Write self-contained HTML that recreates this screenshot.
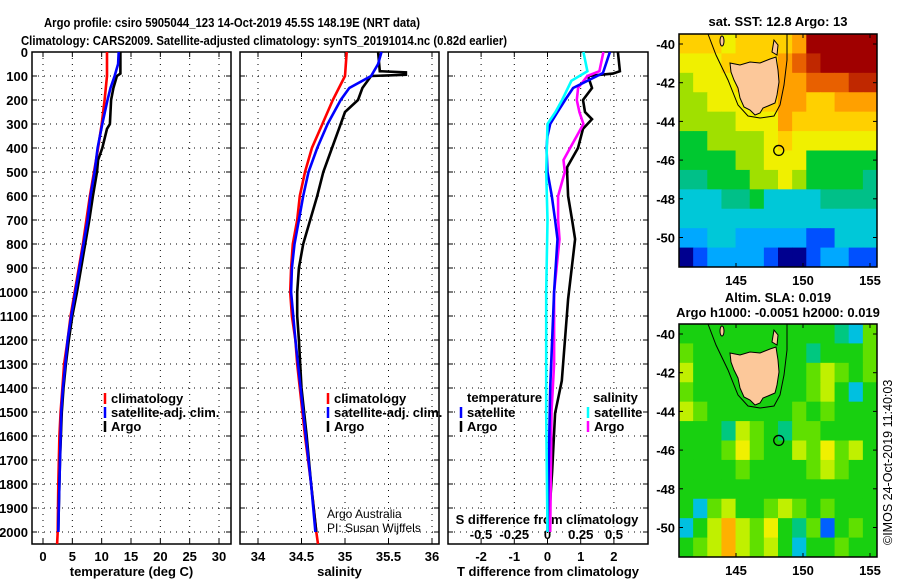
<!DOCTYPE html>
<html><head><meta charset="utf-8"><style>
html,body{margin:0;padding:0;background:#fff;}
svg{display:block;font-family:"Liberation Sans",Arial,sans-serif;}
.b{font-weight:bold;font-size:13px;}
</style></head><body>
<svg id="c" width="900" height="580" viewBox="0 0 900 580" xmlns="http://www.w3.org/2000/svg">
<text x="44" y="27" class="b" font-size="16" textLength="376" lengthAdjust="spacingAndGlyphs">Argo profile: csiro 5905044_123 14-Oct-2019 45.5S 148.19E (NRT data)</text>
<text x="21" y="45" class="b" font-size="16" textLength="486" lengthAdjust="spacingAndGlyphs">Climatology: CARS2009. Satellite-adjusted climatology: synTS_20191014.nc (0.82d earlier)</text>
<g id="g"></g>
</svg>
<script>
// ---- data ----
const depthTicks=[0,100,200,300,400,500,600,700,800,900,1000,1100,1200,1300,1400,1500,1600,1700,1800,1900,2000];
const tempTicks=[0,5,10,15,20,25,30];
const salTicks=[34,34.5,35,35.5,36];
const tdiffTicks=[-2,-1,0,1,2];
const sdiffTicks=[-0.5,-0.25,0,0.25,0.5];
const lonTicks=[145,150,155];
const latTicks=[-40,-42,-44,-46,-48,-50];

const tClimDepth=[0,100,200,300,400,500,600,700,800,900,1000,1100,1200,1300,1400,1500,1600,1800,2000,2050];
const tClim=[10.9,10.9,10.5,10.0,9.4,8.7,8.0,7.4,6.8,6.1,5.4,4.7,4.2,3.6,3.3,3.0,2.8,2.6,2.5,2.4];
const tSatDepth=[0,50,100,150,200,300,400,500,600,700,800,900,1000,1100,1200,1300,1400,1500,1700,1900,2000];
const tSat=[12.9,12.8,12.2,11.5,11.0,10.1,9.3,8.8,8.1,7.6,6.9,6.2,5.5,4.8,4.2,3.8,3.4,3.1,2.9,2.7,2.6];
const tArgoDepth=[0,90,100,150,200,300,320,400,450,500,600,700,800,900,1000,1100,1200,1300,1400,1500,1700,1900,2000];
const tArgo=[13.2,13.2,12.6,12.0,11.6,11.4,10.9,10.1,9.4,9.2,8.5,7.9,7.2,6.5,5.8,5.0,4.4,3.9,3.5,3.2,2.9,2.7,2.6];

const sClimDepth=[0,100,200,300,400,500,600,700,800,900,1000,1100,1200,1300,1400,1500,1600,1800,2000,2050];
const sClim=[35.02,35.0,34.86,34.74,34.62,34.54,34.48,34.45,34.40,34.38,34.37,34.39,34.43,34.45,34.48,34.51,34.54,34.61,34.67,34.69];
const sSatDepth=[0,50,100,150,200,300,400,500,600,700,800,900,1000,1200,1400,1600,1800,2000];
const sSat=[35.42,35.38,35.3,35.05,34.95,34.8,34.68,34.58,34.52,34.47,34.42,34.39,34.38,34.43,34.49,34.55,34.61,34.66];
const sArgoDepth=[0,80,85,95,100,150,200,250,300,400,500,600,700,800,900,1000,1100,1200,1400,1600,1800,2000];
const sArgo=[35.38,35.4,35.7,35.7,35.3,35.2,35.15,35.0,34.95,34.85,34.75,34.68,34.6,34.52,34.47,34.45,34.45,34.47,34.5,34.56,34.61,34.67];

const dTSatDepth=[0,88,150,200,250,300,350,400,500,600,700,780,1000,1400,2000];
const dTSat=[1.88,1.67,0.77,0.53,0.3,0.08,0,-0.03,0,0.13,0.23,0.3,0.2,0.08,0];
const dTArgoDepth=[0,80,90,100,150,200,250,280,320,400,480,500,600,700,780,1030,1370,1505,1750,2000];
const dTArgo=[2.12,2.18,1.97,1.22,1.34,1.07,1.13,1.34,1.07,0.92,0.59,0.59,0.62,0.74,0.83,0.62,0.43,0.23,0.14,0.02];
const dSSatDepth=[0,80,120,200,250,300,500,700,1000,1500,2000];
const dSSat=[0.27,0.3,0.18,0.11,0.06,0,-0.01,0,-0.01,-0.01,0];
const dSArgoDepth=[0,80,100,150,200,250,300,350,400,450,500,600,700,780,1000,1300,1500,2000];
const dSArgo=[0.42,0.39,0.3,0.23,0.22,0.24,0.27,0.22,0.17,0.12,0.13,0.08,0.08,0.09,0.05,0.05,0.03,0.02];

const sstGrid=[
[8,8,8,7,8,8,8,8,9,12,12,12,12,12],
[7,7,7,8,8,8,8,9,10,11,12,12,12,12],
[6,7,7,7,8,8,8,9,9,10,10,10,11,11],
[6,6,7,7,7,8,8,9,9,8,8,9,9,9],
[6,6,6,6,7,7,7,9,8,8,8,8,8,8],
[5,5,6,6,6,6,7,8,7,7,7,7,7,7],
[5,5,5,5,6,6,7,7,7,5,5,5,5,5],
[4,4,5,5,5,6,6,7,6,5,5,5,5,4],
[3,3,3,4,4,5,3,3,3,3,4,4,4,4],
[3,3,3,3,3,3,3,3,3,3,3,3,3,3],
[2,2,3,3,2,2,2,2,2,1,1,3,3,3],
[0,1,2,2,2,2,1,0,0,1,2,2,1,1]];
const slaGrid=[
[3,3,3,3,3,3,3,3,3,3,3,2,1,4],
[4,3,3,3,3,3,3,3,3,2,3,3,3,4],
[5,3,3,3,3,3,3,3,3,4,5,4,3,4],
[4,3,3,3,3,3,3,3,3,4,5,3,1,3],
[5,4,3,3,3,3,3,3,4,3,4,3,3,3],
[3,3,3,2,5,4,3,2,4,4,3,3,3,3],
[3,3,3,4,6,4,3,3,5,4,6,4,5,3],
[3,3,3,3,4,3,3,3,3,4,5,4,3,3],
[3,3,3,3,3,3,3,3,3,3,3,3,3,3],
[3,1,4,5,3,3,4,5,4,3,4,3,3,3],
[1,3,5,7,5,4,6,3,2,4,0,3,4,3],
[3,4,5,7,5,4,5,3,1,3,3,4,3,3]];
const argoLon=148.19, argoLat=-45.5;

// ---- drawing ----
const NS="http://www.w3.org/2000/svg";
const G=document.getElementById('g');
function el(t,a,p){const e=document.createElementNS(NS,t);for(const k in a)e.setAttribute(k,a[k]);(p||G).appendChild(e);return e;}
const Y=d=>52+d*0.24;
const yBot=544;
const panels=[
 {x0:32,x1:231,X:v=>43+v*5.867,ticks:tempTicks,lab:'temperature (deg C)',name:'temperature-panel'},
 {x0:240,x1:439,X:v=>258+(v-34)*87,ticks:salTicks,lab:'salinity',name:'salinity-panel'},
 {x0:448,x1:648,X:v=>547.5+v*33.2,ticks:tdiffTicks,lab:'T difference from climatology',name:'difference-panel'}];
const XS=v=>547.5+v*133;

panels.forEach((p,i)=>{
 const g=el('g',{});
 
 
 depthTicks.forEach(d=>{
  el('line',{x1:p.x0,x2:p.x1,y1:Y(d),y2:Y(d),stroke:'#000','stroke-width':1,'stroke-dasharray':'1,5'},g);
  el('line',{x1:p.x0,x2:p.x0+5,y1:Y(d),y2:Y(d),stroke:'#000'},g);
  el('line',{x1:p.x1-5,x2:p.x1,y1:Y(d),y2:Y(d),stroke:'#000'},g);
 });
 p.ticks.forEach(v=>{
  const x=p.X(v);
  el('line',{x1:x,x2:x,y1:52,y2:yBot,stroke:'#000','stroke-width':1,'stroke-dasharray':'1,5'},g);
  el('line',{x1:x,x2:x,y1:yBot,y2:yBot-5,stroke:'#000'},g);
  el('line',{x1:x,x2:x,y1:52,y2:57,stroke:'#000'},g);
  const t=el('text',{x:x,y:561,'text-anchor':'middle',class:'b'},g);
  
  
  t.textContent=String(v);
 });
 el('rect',{x:p.x0,y:52,width:p.x1-p.x0,height:yBot-52,fill:'none',stroke:'#000','stroke-width':1.5},g);
 const xt=el('text',{x:(p.x0+p.x1)/2,y:576,'text-anchor':'middle',class:'b'},g);
 
 
 xt.textContent=p.lab;
});
depthTicks.forEach(d=>{
 const t=el('text',{x:28,y:Y(d)+5,'text-anchor':'end',class:'b'});
 
 
 t.textContent=String(d);
});
sdiffTicks.forEach(v=>{
 const t=el('text',{x:XS(v),y:539,'text-anchor':'middle',class:'b'});
 
 
 t.textContent=String(v);
});
const st=el('text',{x:547,y:524,'text-anchor':'middle',class:'b'});


st.textContent='S difference from climatology';

function line(X,vals,depths,color,name){
 const pts=vals.map((v,i)=>X(v).toFixed(1)+','+Y(depths[i]).toFixed(1)).join(' ');
 const l=el('polyline',{points:pts,fill:'none',stroke:color,'stroke-width':2.6});
 
 
}
const P=panels;
line(P[0].X,tClim,tClimDepth,'#f00','temp-climatology-line');
line(P[0].X,tArgo,tArgoDepth,'#000','temp-argo-line');
line(P[0].X,tSat,tSatDepth,'#00f','temp-satellite-line');
line(P[1].X,sClim,sClimDepth,'#f00','salinity-climatology-line');
line(P[1].X,sArgo,sArgoDepth,'#000','salinity-argo-line');
line(P[1].X,sSat,sSatDepth,'#00f','salinity-satellite-line');
line(P[2].X,dTArgo,dTArgoDepth,'#000','tdiff-argo-line');
line(XS,dSArgo,dSArgoDepth,'#f0f','sdiff-argo-line');
line(P[2].X,dTSat,dTSatDepth,'#00f','tdiff-satellite-line');
line(XS,dSSat,dSSatDepth,'#0ff','sdiff-satellite-line');

function legend(x,y,color,txt,name){
 el('rect',{x:x-2,y:y-9,width:18,height:12,fill:'#fff'});
 el('line',{x1:x,x2:x,y1:y-9,y2:y+2,stroke:color,'stroke-width':2.5});
 const t=el('text',{x:x+6,y:y+1,class:'b'});
 
 
 t.textContent=txt;
}
legend(105,402,'#f00','climatology','legend-climatology');
legend(105,416,'#00f','satellite-adj. clim.','legend-satellite');
legend(105,430,'#000','Argo','legend-argo');
legend(328,402,'#f00','climatology','legend-climatology');
legend(328,416,'#00f','satellite-adj. clim.','legend-satellite');
legend(328,430,'#000','Argo','legend-argo');
const lt=el('text',{x:467,y:402,class:'b'});lt.textContent='temperature';


legend(461,416,'#00f','satellite','legend-t-satellite');
legend(461,430,'#000','Argo','legend-t-argo');
const ls=el('text',{x:593,y:402,class:'b'});ls.textContent='salinity';


legend(588,416,'#0ff','satellite','legend-s-satellite');
legend(588,430,'#f0f','Argo','legend-s-argo');
[['Argo Australia',518],['PI: Susan Wijffels',532]].forEach(a=>{
 const t=el('text',{x:327,y:a[1],'font-size':12});
 
 
 t.textContent=a[0];
});

// ---- maps ----
const sstPal=['#00008f','#0050ff','#00a8ff','#00c8d8','#00c088','#00c830','#a0e000','#f0f000','#ffd000','#ffa000','#e86000','#c02800','#a00000'];
const slaPal=['#0060ff','#00c0e0','#00c880','#18d010','#60e000','#c0f000','#f0f000','#ffb000'];
function map(top,grid,pal,name,titles){
 const mx0=679,mx1=877,my0=top,my1=top+233;
 const LX=lon=>736+(lon-145)*13.4;
 const LY=lat=>top+10+(-40-lat)*19.35;
 const g=el('g',{});
 
 
 const rows=grid.length,cols=grid[0].length;
 const cw=(mx1-mx0)/cols,ch=(my1-my0)/rows;
 grid.forEach((r,i)=>r.forEach((v,j)=>{
  const c=el('rect',{x:mx0+j*cw,y:my0+i*ch,width:cw+0.5,height:ch+0.5,fill:pal[v]},g);
  
  
 }));
 const o=top-34;
 el('path',{d:`M708,${34+o} L716,${55+o} L728,${80+o} L738,${105+o} L748,${116+o} L760,${118+o} L774,${116+o} L780,${105+o} L784,${85+o} L787,${60+o} L787,${34+o}`,fill:'none',stroke:'#000','stroke-width':1},g);
 const land=el('path',{d:`M730,${63+o} L740,${65+o} L750,${62+o} L760,${63+o} L770,${59+o} L776,${57+o} L778,${70+o} L779,${82+o} L777,${95+o} L775,${103+o} L768,${106+o} L763,${108+o} L760,${113+o} L755,${115+o} L750,${110+o} L744,${107+o} L740,${98+o} L738,${88+o} L734,${80+o} L731,${72+o} Z`,fill:'#fcc89a',stroke:'#000','stroke-width':1},g);
 
 
 el('path',{d:`M774,${40+o} L778,${45+o} L777,${55+o} L772,${52+o} Z`,fill:'#fcc89a',stroke:'#000'},g);
 el('ellipse',{cx:722,cy:41+o,rx:2,ry:5,fill:'#fcc89a',stroke:'#000'},g);
 const c=el('circle',{cx:LX(argoLon),cy:LY(argoLat),r:5,fill:'none',stroke:'#000','stroke-width':1.3},g);
 
 
 el('rect',{x:mx0,y:my0,width:mx1-mx0,height:my1-my0,fill:'none',stroke:'#000','stroke-width':1.5},g);
 lonTicks.forEach(l=>{
  el('line',{x1:LX(l),x2:LX(l),y1:my1,y2:my1-4,stroke:'#000'},g);
  el('line',{x1:LX(l),x2:LX(l),y1:my0,y2:my0+4,stroke:'#000'},g);
  const t=el('text',{x:LX(l),y:my1+18,'text-anchor':'middle',class:'b'},g);
  
  
  t.textContent=String(l);
 });
 latTicks.forEach(l=>{
  el('line',{x1:mx0,x2:mx0+4,y1:LY(l),y2:LY(l),stroke:'#000'},g);
  el('line',{x1:mx1-4,x2:mx1,y1:LY(l),y2:LY(l),stroke:'#000'},g);
  const t=el('text',{x:675,y:LY(l)+5,'text-anchor':'end',class:'b'},g);
  
  
  t.textContent=String(l);
 });
 titles.forEach((s,i)=>{
  const t=el('text',{x:778,y:s[1],'text-anchor':'middle',class:'b'},g);
  
  
  t.textContent=s[0];
 });
}
map(34,sstGrid,sstPal,'sst-map',[['sat. SST: 12.8 Argo: 13',26]]);
map(324,slaGrid,slaPal,'sla-map',[['Altim. SLA: 0.019',302],['Argo h1000: -0.0051 h2000: 0.019',317]]);
const cp=el('text',{x:0,y:0,'font-size':12.5,transform:'translate(892,545) rotate(-90)'});


cp.textContent='©IMOS 24-Oct-2019 11:40:03';
</script>
</body></html>
